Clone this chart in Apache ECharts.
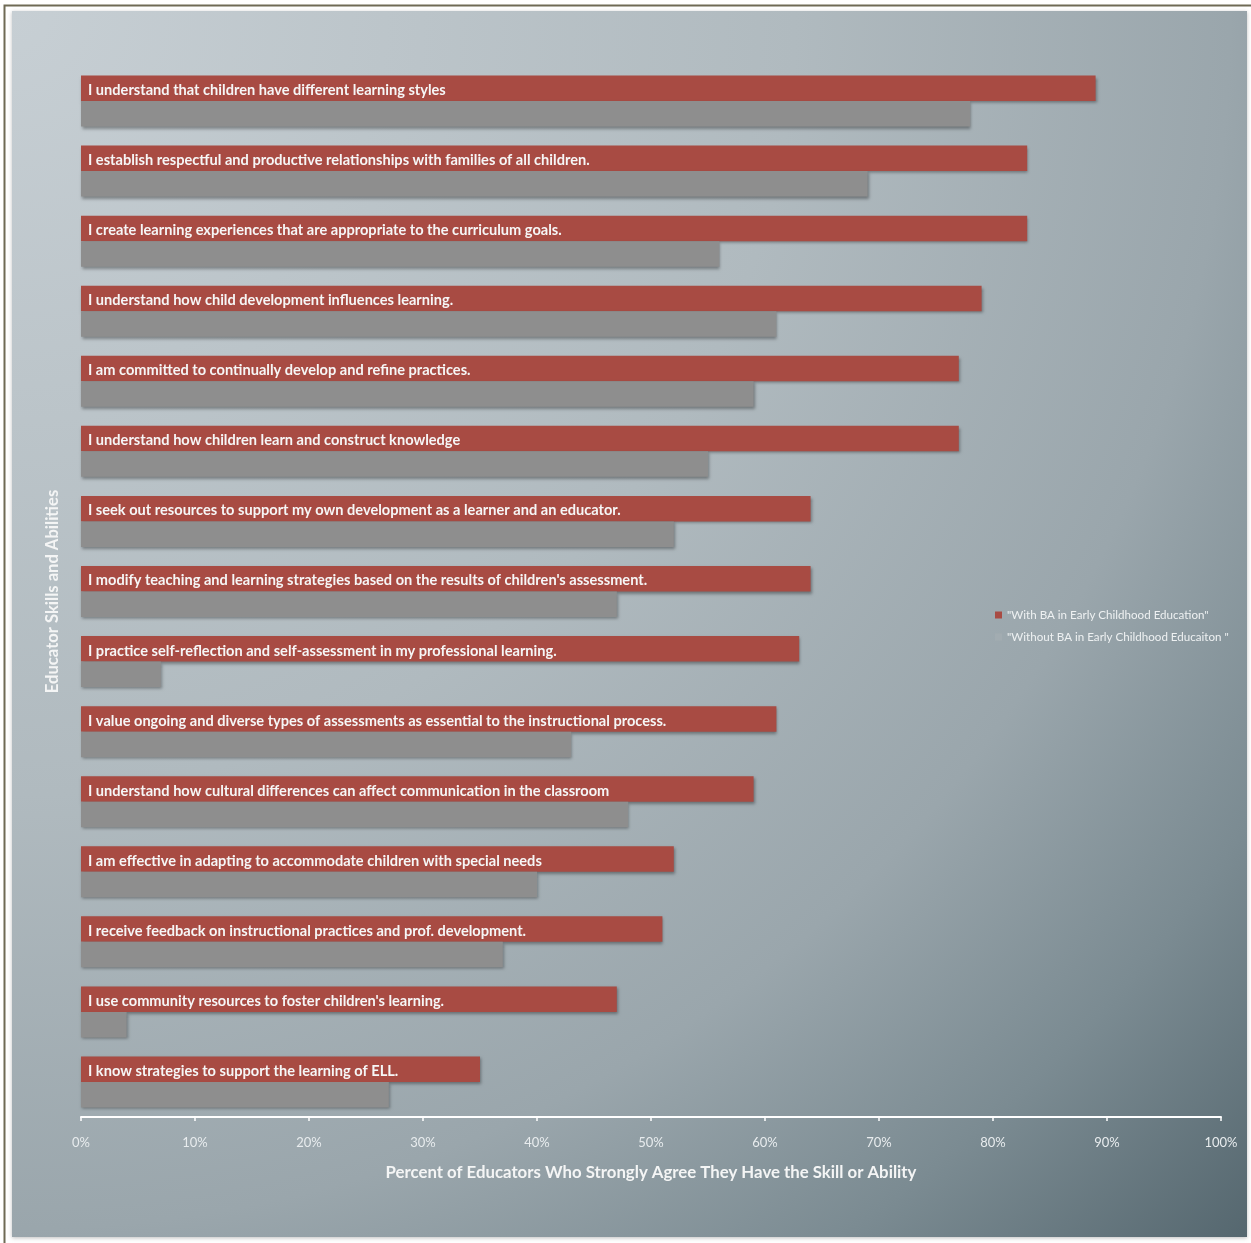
<!DOCTYPE html>
<html>
<head>
<meta charset="utf-8">
<title>Educator Skills and Abilities</title>
<script src="https://cdn.jsdelivr.net/npm/echarts@6/dist/echarts.min.js"></script>
<style>
  html, body { margin: 0; padding: 0; background: #ffffff; }
  #chart { width: 1251px; height: 1243px; }
</style>
</head>
<body>
<div id="chart"></div>
<script>
// Skill statements, listed top to bottom
const categories = [
  "I understand that children have different learning styles",
  "I establish respectful and productive relationships with families of all children.",
  "I create learning experiences that are appropriate to the curriculum goals.",
  "I understand how child development influences learning.",
  "I am committed to continually develop and refine practices.",
  "I understand how children learn and construct knowledge",
  "I seek out resources to support my own development as a learner and an educator.",
  "I modify teaching and learning strategies based on the results of children's assessment.",
  "I practice self-reflection and self-assessment in my professional learning.",
  "I value ongoing and diverse types of assessments as essential to the instructional process.",
  "I understand how cultural differences can affect communication in the classroom",
  "I am effective in adapting to accommodate children with special needs",
  "I receive feedback on instructional practices and prof. development.",
  "I use community resources to foster children's learning.",
  "I know strategies to support the learning of ELL."
];

// Percent of educators who strongly agree
const withBA = [89, 83, 83, 79, 77, 77, 64, 64, 63, 61, 59, 52, 51, 47, 35];
const withoutBA = [78, 69, 56, 61, 59, 55, 52, 47, 7, 43, 48, 40, 37, 4, 27];

const seriesNames = [
  '"With BA in Early Childhood Education"',
  '"Without BA in Early Childhood Educaiton "'
];

const xTicks = [0, 10, 20, 30, 40, 50, 60, 70, 80, 90, 100];

const FONT = 'Lato, "Open Sans", sans-serif';

const chart = echarts.init(document.getElementById('chart'), null, { renderer: 'canvas' });

const barShadow = {
  shadowColor: 'rgba(0,0,0,0.35)',
  shadowBlur: 3,
  shadowOffsetX: 1,
  shadowOffsetY: 2
};

chart.setOption({
  animation: false,
  backgroundColor: '#ffffff',
  graphic: [
    {
      type: 'group',
      silent: true,
      z: -10,
      children: [
        // outer frame
        {
          type: 'rect',
          shape: { x: 4.5, y: 5.5, width: 1260, height: 1260 },
          style: { fill: 'none', stroke: '#6f6a55', lineWidth: 2 }
        },
        // shaded panel
        {
          type: 'rect',
          shape: { x: 12, y: 11, width: 1235, height: 1226 },
          style: {
            fill: new echarts.graphic.RadialGradient(12, 11, 1740, [
              { offset: 0, color: '#c7cfd4' },
              { offset: 0.45, color: '#b0babf' },
              { offset: 0.7, color: '#9aa6ac' },
              { offset: 0.85, color: '#7b8b92' },
              { offset: 1, color: '#55676f' }
            ], true),
            shadowColor: 'rgba(0,0,0,0.25)',
            shadowBlur: 4,
            shadowOffsetY: 1
          }
        }
      ]
    }
  ],
  legend: {
    orient: 'vertical',
    left: 990,
    top: 604,
    icon: 'rect',
    itemWidth: 7,
    itemHeight: 7,
    itemGap: 10,
    selectedMode: false,
    textStyle: { color: '#eef1f2', fontSize: 11.6, fontFamily: FONT },
    data: [
      { name: seriesNames[0] },
      { name: seriesNames[1], itemStyle: { color: '#a2acb1' } }
    ]
  },
  grid: {
    left: 81,
    right: 30,
    top: 66,
    bottom: 126,
    containLabel: false
  },
  xAxis: {
    type: 'value',
    min: 0,
    max: 100,
    interval: 10,
    name: 'Percent of Educators Who Strongly Agree They Have the Skill or Ability',
    nameLocation: 'middle',
    nameGap: 47,
    nameTextStyle: { color: '#f4f5f5', fontSize: 16.8, fontWeight: 'bold', fontFamily: FONT },
    axisLine: { show: true, lineStyle: { color: '#ffffff', width: 2 } },
    axisTick: { show: true, length: 4, lineStyle: { color: '#ffffff', width: 1.5 } },
    axisLabel: {
      color: '#e8ecee',
      fontSize: 13,
      fontFamily: FONT,
      margin: 19,
      formatter: function (v) { return v + '%'; },
      customValues: xTicks
    },
    splitLine: { show: false }
  },
  yAxis: {
    type: 'category',
    inverse: true,
    data: categories,
    name: 'Educator Skills and Abilities',
    nameLocation: 'middle',
    nameRotate: 90,
    nameGap: 20,
    nameTextStyle: { color: '#f4f5f5', fontSize: 16.6, fontWeight: 'bold', fontFamily: FONT },
    axisLine: { show: false },
    axisTick: { show: false },
    axisLabel: { show: false },
    splitLine: { show: false }
  },
  series: [
    {
      name: seriesNames[0],
      type: 'bar',
      data: withBA,
      barWidth: 25.5,
      barGap: '0%',
      itemStyle: Object.assign({ color: '#a84b43' }, barShadow),
      label: {
        show: true,
        position: 'insideLeft',
        distance: 7,
        offset: [0, 2],
        formatter: '{b}',
        color: '#f6f6f6',
        fontSize: 14.6,
        fontWeight: 'bold',
        fontFamily: FONT
      }
    },
    {
      name: seriesNames[1],
      type: 'bar',
      data: withoutBA,
      barWidth: 25.5,
      barGap: '0%',
      itemStyle: Object.assign({ color: '#8e8e8e' }, barShadow)
    }
  ]
});
</script>
</body>
</html>
